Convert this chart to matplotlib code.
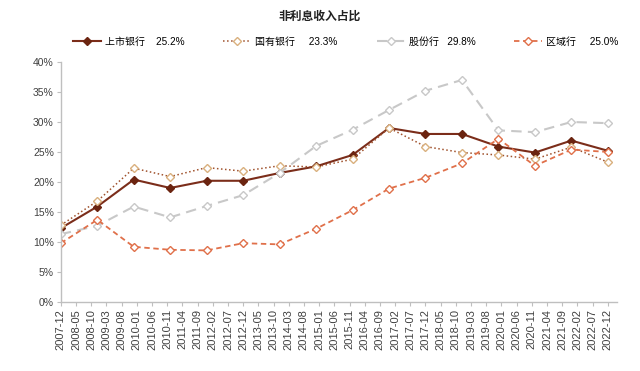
import matplotlib
matplotlib.use('Agg')
import matplotlib.pyplot as plt

plt.rcParams['font.family'] = ['Liberation Sans', 'Noto Sans CJK SC', 'DejaVu Sans']

# annual data points, 2007-12 .. 2022-12
years = list(range(2007, 2023))
listed = [12.3, 15.9, 20.4, 19.0, 20.2, 20.2, 21.5, 22.6, 24.5, 29.0, 28.0, 28.0, 25.9, 24.9, 26.9, 25.2]
state = [12.8, 16.8, 22.3, 20.9, 22.4, 21.8, 22.7, 22.5, 23.8, 29.0, 25.9, 24.9, 24.5, 23.8, 25.8, 23.3]
joint = [11.3, 12.7, 15.9, 14.1, 16.0, 17.8, 21.5, 26.0, 28.7, 32.0, 35.2, 37.0, 28.6, 28.3, 30.0, 29.8]
regional = [9.8, 13.7, 9.2, 8.7, 8.6, 9.8, 9.6, 12.2, 15.3, 18.9, 20.7, 23.1, 27.2, 22.7, 25.4, 25.0]

names = ['上市银行', '国有银行', '股份行', '区域行']
latest = ['25.2%', '23.3%', '29.8%', '25.0%']
gaps = [4, 5, 3, 5]

# x tick labels every 5 months
tick_labels = []
y, m = 2007, 12
for i in range(37):
    tick_labels.append('%d-%02d' % (y, m))
    m += 5
    if m > 12:
        m -= 12
        y += 1

x = [(yr - 2007) * 12 for yr in years]

fig = plt.figure(figsize=(6.4, 3.71), dpi=100)
ax = fig.add_axes([0.095, 0.186, 0.869, 0.647])

l1, = ax.plot(x, listed, color='#7B2D1A', lw=1.5, marker='D', ms=3.8,
              mfc='#6B2410', mec='#6B2410')
l2, = ax.plot(x, state, color='#A0522D', lw=1.1, ls=':', marker='D', ms=4.5,
              mfc='white', mec='#D9B07E', mew=1.0)
l3, = ax.plot(x, joint, color='#C8C8C8', lw=1.5, ls=(0, (5, 3)), marker='D', ms=4.5,
              mfc='white', mec='#C8C8C8', mew=1.0)
l4, = ax.plot(x, regional, color='#E0704A', lw=1.3, ls=(0, (3, 2)), marker='D', ms=4.5,
              mfc='white', mec='#E0704A', mew=1.0)

ax.set_xlim(0, 183)
ax.set_ylim(0, 40)
ax.set_yticks(range(0, 41, 5))
ax.set_yticklabels(['%d%%' % v for v in range(0, 41, 5)])
ax.set_xticks(range(0, 181, 5))
ax.set_xticklabels(tick_labels, rotation=90)

for s in ['top', 'right']:
    ax.spines[s].set_visible(False)
for s in ['left', 'bottom']:
    ax.spines[s].set_color('#BFBFBF')
    ax.spines[s].set_linewidth(1.0)
ax.tick_params(axis='x', colors='#BFBFBF', labelcolor='#404040', labelsize=8, length=3, pad=2)
ax.tick_params(axis='y', colors='#BFBFBF', labelcolor='#404040', labelsize=7.5, length=3, pad=2)

fig.text(0.5, 0.955, '非利息收入占比', ha='center', va='center', fontsize=8.5, fontweight='bold',
         color='#222222')

labels = [n + ' ' * g + v for n, v, g in zip(names, latest, gaps)]
fig.legend([l1, l2, l3, l4], labels, loc='center', bbox_to_anchor=(0.54, 0.887), ncol=4,
           frameon=False, fontsize=7.2, handlelength=2.8, columnspacing=3.9, handletextpad=0.4)

fig.savefig('out.png', dpi=100)
